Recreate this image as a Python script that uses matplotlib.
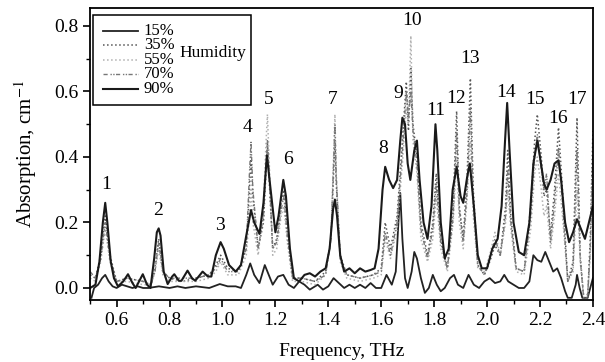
import matplotlib
matplotlib.use("Agg")
import matplotlib.pyplot as plt
from matplotlib.patches import Rectangle
from matplotlib.lines import Line2D

plt.rcParams['font.family'] = ['Liberation Serif', 'DejaVu Serif']
plt.rcParams['mathtext.fontset'] = 'stix'

# 90% humidity (upper thick solid curve)
f_90 = [0.50, 0.52, 0.535, 0.548, 0.557, 0.565, 0.578, 0.59, 0.605, 0.625,
        0.643, 0.66, 0.672, 0.685, 0.699, 0.715, 0.728, 0.742, 0.752, 0.759,
        0.766, 0.778, 0.793, 0.81, 0.818, 0.835, 0.845, 0.868, 0.885, 0.897,
        0.925, 0.945, 0.958, 0.975, 0.993, 1.005, 1.025, 1.05, 1.07, 1.09,
        1.108, 1.12, 1.14, 1.155, 1.168, 1.178, 1.20, 1.212, 1.23, 1.24,
        1.255, 1.27, 1.29, 1.31, 1.33, 1.35, 1.37, 1.39, 1.405, 1.418,
        1.425, 1.433, 1.445, 1.46, 1.48, 1.50, 1.52, 1.54, 1.56, 1.575,
        1.59, 1.605, 1.615, 1.63, 1.645, 1.66, 1.672, 1.68, 1.69, 1.70,
        1.71, 1.725, 1.735, 1.745, 1.76, 1.775, 1.79, 1.805, 1.812, 1.825,
        1.84, 1.855, 1.87, 1.885, 1.90, 1.91, 1.925, 1.935, 1.95, 1.965,
        1.98, 2.00, 2.02, 2.04, 2.055, 2.068, 2.076, 2.085, 2.10, 2.12,
        2.14, 2.16, 2.175, 2.19, 2.20, 2.215, 2.225, 2.24, 2.255, 2.27,
        2.28, 2.295, 2.31, 2.325, 2.34, 2.355, 2.37, 2.385, 2.40]
a_90 = [0.00, 0.01, 0.08, 0.20, 0.26, 0.20, 0.08, 0.03, 0.005, 0.02,
        0.042, 0.015, 0.00, 0.02, 0.042, 0.01, 0.00, 0.09, 0.17, 0.182,
        0.16, 0.05, 0.012, 0.035, 0.042, 0.022, 0.022, 0.053, 0.03, 0.022,
        0.05, 0.035, 0.035, 0.10, 0.14, 0.12, 0.07, 0.05, 0.07, 0.16,
        0.238, 0.20, 0.165, 0.26, 0.405, 0.33, 0.17, 0.22, 0.33, 0.28,
        0.12, 0.03, 0.02, 0.04, 0.045, 0.035, 0.05, 0.06, 0.12, 0.24,
        0.27, 0.22, 0.10, 0.05, 0.06, 0.045, 0.06, 0.05, 0.055, 0.06,
        0.12, 0.30, 0.37, 0.33, 0.305, 0.33, 0.45, 0.52, 0.50, 0.38,
        0.33, 0.42, 0.45, 0.33, 0.20, 0.15, 0.25, 0.50, 0.42, 0.20,
        0.09, 0.12, 0.30, 0.37, 0.28, 0.26, 0.34, 0.38, 0.25, 0.10,
        0.06, 0.06, 0.12, 0.15, 0.25, 0.45, 0.565, 0.42, 0.20, 0.11,
        0.10, 0.20, 0.38, 0.45, 0.40, 0.32, 0.30, 0.33, 0.38, 0.39,
        0.33, 0.20, 0.14, 0.17, 0.21, 0.18, 0.15, 0.20, 0.25]

# 15% humidity (lower solid curve)
f_15 = [0.505, 0.515, 0.53, 0.545, 0.557, 0.57, 0.585, 0.60, 0.62, 0.64,
        0.66, 0.68, 0.70, 0.72, 0.76, 0.80, 0.83, 0.86, 0.90, 0.95,
        0.99, 1.02, 1.05, 1.07, 1.09, 1.105, 1.12, 1.14, 1.16, 1.175,
        1.19, 1.21, 1.23, 1.25, 1.27, 1.29, 1.31, 1.33, 1.36, 1.38,
        1.40, 1.42, 1.44, 1.46, 1.48, 1.50, 1.52, 1.54, 1.56, 1.58,
        1.60, 1.62, 1.64, 1.655, 1.665, 1.672, 1.68, 1.69, 1.70, 1.715,
        1.725, 1.735, 1.75, 1.765, 1.78, 1.795, 1.81, 1.825, 1.84, 1.86,
        1.875, 1.89, 1.91, 1.93, 1.95, 1.97, 1.99, 2.01, 2.03, 2.05,
        2.065, 2.08, 2.10, 2.12, 2.14, 2.16, 2.175, 2.19, 2.205, 2.22,
        2.235, 2.25, 2.265, 2.28, 2.295, 2.305, 2.32, 2.335, 2.34, 2.35,
        2.36, 2.38, 2.39, 2.40]
a_15 = [-0.03, 0.00, 0.01, 0.03, 0.04, 0.02, 0.005, 0.00, 0.01, 0.005,
        0.00, 0.005, 0.00, 0.00, 0.005, 0.00, 0.005, 0.00, 0.005, 0.00,
        0.012, 0.005, 0.005, 0.00, 0.04, 0.075, 0.04, 0.015, 0.07, 0.04,
        0.01, 0.035, 0.04, 0.01, 0.00, 0.02, 0.01, -0.005, 0.01, -0.005,
        0.005, 0.03, 0.015, 0.00, 0.01, 0.00, 0.01, 0.00, 0.015, 0.00,
        0.00, 0.04, 0.01, 0.05, 0.20, 0.29, 0.15, 0.03, 0.00, 0.05,
        0.11, 0.09, 0.03, -0.015, 0.00, 0.04, 0.01, -0.01, 0.00, 0.03,
        0.04, 0.01, 0.00, 0.04, 0.01, 0.00, 0.02, 0.03, 0.015, 0.02,
        0.04, 0.02, 0.01, 0.00, 0.00, 0.02, 0.10, 0.085, 0.08, 0.11,
        0.08, 0.05, 0.06, 0.03, -0.01, -0.03, -0.03, 0.01, 0.04, 0.00,
        -0.03, -0.03, 0.00, 0.03]

# 35%, 55%, 70% humidity (dotted curves) share one frequency list
f_dot = [0.50, 0.52, 0.54, 0.557, 0.575, 0.60, 0.64, 0.70, 0.73, 0.745,
         0.759, 0.775, 0.80, 0.85, 0.90, 0.95, 0.975, 0.993, 1.02, 1.06,
         1.09, 1.102, 1.108, 1.115, 1.135, 1.155, 1.165, 1.170, 1.176, 1.19,
         1.205, 1.222, 1.232, 1.245, 1.265, 1.30, 1.35, 1.39, 1.41, 1.42,
         1.425, 1.43, 1.445, 1.47, 1.52, 1.57, 1.60, 1.615, 1.635, 1.66,
         1.68, 1.695, 1.703, 1.712, 1.72, 1.735, 1.75, 1.775, 1.795, 1.808,
         1.825, 1.85, 1.872, 1.885, 1.895, 1.91, 1.925, 1.937, 1.948, 1.965,
         1.99, 2.01, 2.03, 2.05, 2.07, 2.078, 2.09, 2.11, 2.14, 2.165,
         2.18, 2.19, 2.205, 2.215, 2.225, 2.24, 2.255, 2.27, 2.285, 2.305,
         2.325, 2.34, 2.352, 2.365, 2.38, 2.39, 2.40]
a_35 = [0.04, 0.03, 0.10, 0.22, 0.10, 0.02, 0.03, 0.02, 0.01, 0.06,
        0.15, 0.05, 0.03, 0.02, 0.03, 0.04, 0.07, 0.10, 0.06, 0.05,
        0.12, 0.30, 0.40, 0.28, 0.12, 0.20, 0.36, 0.44, 0.34, 0.12,
        0.15, 0.26, 0.30, 0.18, 0.03, 0.03, 0.02, 0.05, 0.15, 0.35,
        0.45, 0.32, 0.10, 0.04, 0.03, 0.04, 0.06, 0.20, 0.12, 0.22,
        0.45, 0.63, 0.48, 0.67, 0.50, 0.40, 0.20, 0.10, 0.20, 0.35,
        0.15, 0.06, 0.25, 0.54, 0.25, 0.15, 0.35, 0.64, 0.30, 0.07,
        0.04, 0.08, 0.13, 0.10, 0.25, 0.42, 0.22, 0.06, 0.05, 0.25,
        0.45, 0.53, 0.40, 0.28, 0.30, 0.16, 0.30, 0.49, 0.30, 0.02,
        0.08, 0.52, 0.10, -0.03, -0.03, 0.15, 0.48]
a_55 = [0.03, 0.02, 0.08, 0.18, 0.08, 0.02, 0.02, 0.01, 0.01, 0.05,
        0.12, 0.04, 0.02, 0.02, 0.02, 0.03, 0.05, 0.08, 0.04, 0.04,
        0.10, 0.22, 0.30, 0.20, 0.10, 0.25, 0.45, 0.53, 0.40, 0.10,
        0.12, 0.22, 0.25, 0.14, 0.02, 0.02, 0.01, 0.04, 0.15, 0.40,
        0.53, 0.35, 0.08, 0.03, 0.02, 0.03, 0.04, 0.15, 0.09, 0.18,
        0.38, 0.55, 0.50, 0.77, 0.45, 0.35, 0.15, 0.08, 0.15, 0.28,
        0.12, 0.05, 0.20, 0.40, 0.20, 0.12, 0.28, 0.45, 0.22, 0.06,
        0.05, 0.10, 0.17, 0.10, 0.20, 0.30, 0.18, 0.05, 0.04, 0.18,
        0.35, 0.40, 0.30, 0.22, 0.25, 0.12, 0.22, 0.35, 0.22, 0.02,
        0.05, 0.30, 0.08, -0.02, -0.02, 0.10, 0.35]
a_70 = [0.05, 0.03, 0.09, 0.20, 0.09, 0.02, 0.03, 0.02, 0.01, 0.05,
        0.14, 0.05, 0.03, 0.03, 0.03, 0.04, 0.06, 0.09, 0.05, 0.05,
        0.12, 0.35, 0.445, 0.30, 0.12, 0.22, 0.38, 0.45, 0.36, 0.12,
        0.14, 0.24, 0.28, 0.16, 0.03, 0.03, 0.02, 0.04, 0.15, 0.38,
        0.50, 0.34, 0.09, 0.04, 0.03, 0.04, 0.05, 0.17, 0.10, 0.20,
        0.42, 0.60, 0.52, 0.60, 0.48, 0.38, 0.18, 0.09, 0.18, 0.32,
        0.14, 0.06, 0.22, 0.48, 0.24, 0.14, 0.30, 0.55, 0.26, 0.07,
        0.04, 0.09, 0.15, 0.10, 0.22, 0.36, 0.20, 0.06, 0.05, 0.22,
        0.40, 0.47, 0.36, 0.30, 0.35, 0.14, 0.26, 0.43, 0.26, 0.02,
        0.06, 0.42, 0.09, -0.03, -0.03, 0.12, 0.42]

# peak numbers and where their labels sit
peak_ids = [str(i) for i in range(1, 18)]
peak_f = [0.562, 0.758, 0.992, 1.094, 1.173, 1.248, 1.417, 1.609, 1.666,
          1.718, 1.805, 1.884, 1.937, 2.072, 2.181, 2.268, 2.339]
peak_a = [0.315, 0.238, 0.192, 0.489, 0.574, 0.391, 0.574, 0.427, 0.595,
          0.818, 0.543, 0.580, 0.702, 0.598, 0.574, 0.519, 0.574]

fig = plt.figure(figsize=(6.05, 3.62), dpi=100)
ax = fig.add_axes([0.149, 0.171, 0.831, 0.807])

styles = {
    '15%': dict(linestyle='-', color='#222222', lw=1.3),
    '35%': dict(linestyle=':', color='#555555', lw=1.1),
    '55%': dict(linestyle=':', color='#b0b0b0', lw=1.1),
    '70%': dict(linestyle=(0, (3, 2, 1, 1, 1, 1)), color='#777777', lw=1.0),
    '90%': dict(linestyle='-', color='#1a1a1a', lw=1.5),
}

ax.plot(f_15, a_15, **styles['15%'])
ax.plot(f_dot, a_35, **styles['35%'])
ax.plot(f_dot, a_55, **styles['55%'])
ax.plot(f_dot, a_70, **styles['70%'])
ax.plot(f_90, a_90, **styles['90%'])

for t, x, y in zip(peak_ids, peak_f, peak_a):
    ax.text(x, y, t, ha='center', va='center', fontsize=14)

ax.set_xlim(0.5, 2.4)
ax.set_ylim(-0.037, 0.855)
ax.set_xticks([0.6, 0.8, 1.0, 1.2, 1.4, 1.6, 1.8, 2.0, 2.2, 2.4])
ax.set_xticks([0.5 + 0.1 * i for i in range(0, 20, 2)], minor=True)
ax.set_yticks([0.0, 0.2, 0.4, 0.6, 0.8])
ax.set_yticks([0.1, 0.3, 0.5, 0.7], minor=True)
ax.xaxis.set_major_formatter(matplotlib.ticker.FormatStrFormatter('%.1f'))
ax.yaxis.set_major_formatter(matplotlib.ticker.FormatStrFormatter('%.1f'))
ax.tick_params(direction='out', length=5, width=1.2, labelsize=14)
ax.tick_params(which='minor', direction='out', length=3, width=1.0)
for s in ax.spines.values():
    s.set_linewidth(1.3)

ax.set_xlabel('Frequency, THz', fontsize=14, labelpad=10)
ax.set_ylabel('Absorption, cm$^{-1}$', fontsize=15, labelpad=11)

# hand-built legend box, as in the figure
ax.add_patch(Rectangle((0.006, 0.669), 0.314, 0.308, transform=ax.transAxes,
                       fill=False, edgecolor='black', lw=1.1, zorder=5))
for i, name in enumerate(['15%', '35%', '55%', '70%', '90%']):
    yy = (300 - (30.7 + 14.6 * i)) / 292
    ax.add_line(Line2D([0.026, 0.095], [yy, yy], transform=ax.transAxes,
                       zorder=6, **styles[name]))
    ax.text(0.107, yy, name, transform=ax.transAxes, fontsize=12,
            va='center', ha='left')
ax.text(0.178, 0.846, 'Humidity', transform=ax.transAxes, fontsize=12.5,
        va='center', ha='left')

fig.savefig('out.png', dpi=100)
